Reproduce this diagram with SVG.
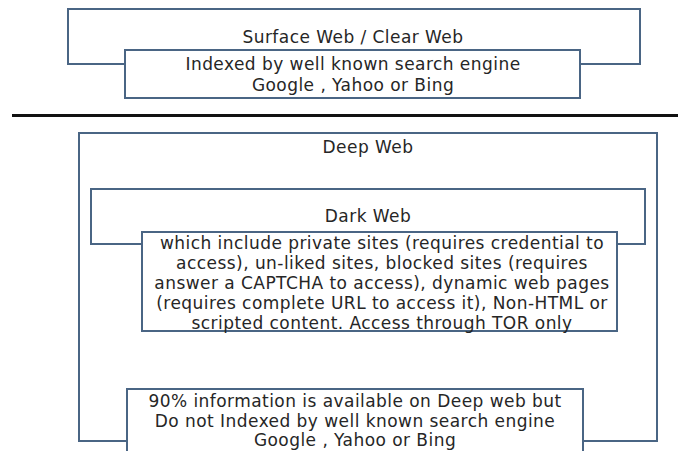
<svg xmlns="http://www.w3.org/2000/svg" width="678" height="451" viewBox="0 0 678 451">
<style>
.box{fill:#fff;stroke:#4a6584;stroke-width:2}
.t{font-family:"DejaVu Sans","Liberation Sans",sans-serif;font-size:17px;letter-spacing:0.45px;fill:#262626;text-anchor:middle}
</style>
<rect width="678" height="451" fill="#fff"/>
<g id="surface">
<rect class="box" x="68" y="9" width="572" height="55"/>
<text class="t" x="353" y="43">Surface Web / Clear Web</text>
</g>
<g id="surface-desc">
<rect class="box" x="125" y="50" width="455" height="48"/>
<text class="t" x="353" y="70">Indexed by well known search engine</text>
<text class="t" x="353" y="91">Google , Yahoo or Bing</text>
</g>
<g id="divider">
<rect x="12" y="114" width="666" height="3" fill="#111"/>
</g>
<g id="deep">
<rect class="box" x="79" y="133" width="578" height="308"/>
<text class="t" x="368" y="153">Deep Web</text>
</g>
<g id="dark">
<rect class="box" x="91" y="189" width="554" height="55"/>
<text class="t" x="368" y="222">Dark Web</text>
</g>
<g id="dark-desc">
<rect class="box" x="142" y="232" width="475" height="99"/>
<text class="t" x="382" y="249">which include private sites (requires credential to</text>
<text class="t" x="382" y="269">access), un-liked sites, blocked sites (requires</text>
<text class="t" x="382" y="289">answer a CAPTCHA to access), dynamic web pages</text>
<text class="t" x="382" y="309">(requires complete URL to access it), Non-HTML or</text>
<text class="t" x="382" y="329">scripted content. Access through TOR only</text>
</g>
<g id="deep-desc">
<rect class="box" x="127" y="389" width="456" height="70"/>
<text class="t" x="355" y="407">90% information is available on Deep web but</text>
<text class="t" x="355" y="427">Do not Indexed by well known search engine</text>
<text class="t" x="355" y="446">Google , Yahoo or Bing</text>
</g>
<g id="connectors"></g>
</svg>
